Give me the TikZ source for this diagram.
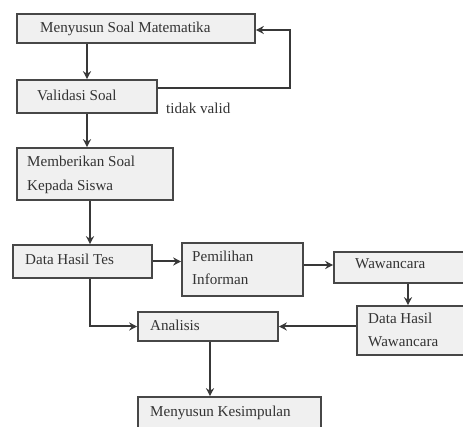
\documentclass[tikz,border=0pt]{standalone}
\usepackage{fontspec}
\setmainfont{Liberation Serif}
\usetikzlibrary{arrows.meta}
\begin{document}
\begin{tikzpicture}[x=1pt,y=-1pt,
  box/.style={draw=black!72,line width=1.6pt,fill=black!6,rectangle,inner sep=0pt,anchor=center},
  lbl/.style={anchor=base west,inner sep=0pt,text=black!80,font=\fontsize{15.1}{17}\selectfont},
  conn/.style={draw=black!78,line width=2pt,-{Stealth[length=8pt,width=8pt]}},
  line/.style={draw=black!78,line width=2pt}]
\useasboundingbox (0,0) rectangle (463,427);
\clip (0,0) rectangle (463,427);
% boxes
\node[box,minimum width=238pt,minimum height=29pt] (b1) at (136,28.5) {};
\node[box,minimum width=140pt,minimum height=33pt] (b2) at (87,96.5) {};
\node[box,minimum width=156pt,minimum height=52pt] (b3) at (95,174) {};
\node[box,minimum width=139pt,minimum height=33pt] (b4) at (82.5,261.5) {};
\node[box,minimum width=121pt,minimum height=53pt] (b5) at (242.5,269.5) {};
\node[box,minimum width=141pt,minimum height=31pt] (b6) at (404.5,267.5) {};
\node[box,minimum width=118pt,minimum height=49pt] (b7) at (416,330.5) {};
\node[box,minimum width=140pt,minimum height=29pt] (b8) at (208,326.5) {};
\node[box,minimum width=183pt,minimum height=43pt] (b9) at (229.5,418.5) {};
% texts
\node[lbl] (t1) at (40,33) {Menyusun Soal Matematika};
\node[lbl] (t2) at (37,101) {Validasi Soal};
\node[lbl] (t3a) at (27,167) {Memberikan Soal};
\node[lbl] (t3b) at (27,191) {Kepada Siswa};
\node[lbl] (t4) at (25,265) {Data Hasil Tes};
\node[lbl] (t5a) at (192,262) {Pemilihan};
\node[lbl] (t5b) at (192,285) {Informan};
\node[lbl] (t6) at (355,269) {Wawancara};
\node[lbl] (t7a) at (368,324) {Data Hasil};
\node[lbl] (t7b) at (368,347) {Wawancara};
\node[lbl] (t8) at (150,331) {Analisis};
\node[lbl] (t9) at (150,416) {Menyusun Kesimpulan};
\node[lbl] (tv) at (166,114) {tidak valid};
% connectors
\coordinate (c1) at (290,88);
\coordinate (c2) at (290,30);
\coordinate (c3) at (90,326.5);
\draw[conn] (b1.south -| b2.north) -- (b2.north);
\draw[conn] (b2.east |- c1) -- (c1) -- (c2) -- (b1.east |- c2);
\draw[conn] (b2.south) -- (b3.north -| b2.south);
\draw[conn] (b3.south -| c3) -- (b4.north -| c3);
\draw[conn] (b4.east) -- (b5.west |- b4.east);
\draw[conn] (b5.east |- 0,265) -- (b6.west |- 0,265);
\draw[conn] (b6.south -| 408,0) -- (b7.north -| 408,0);
\draw[conn] (b7.west |- b8.east) -- (b8.east);
\draw[conn] (b4.south -| c3) -- (c3) -- (b8.west);
\draw[conn] (b8.south -| 210,0) -- (b9.north -| 210,0);
\end{tikzpicture}
\end{document}
